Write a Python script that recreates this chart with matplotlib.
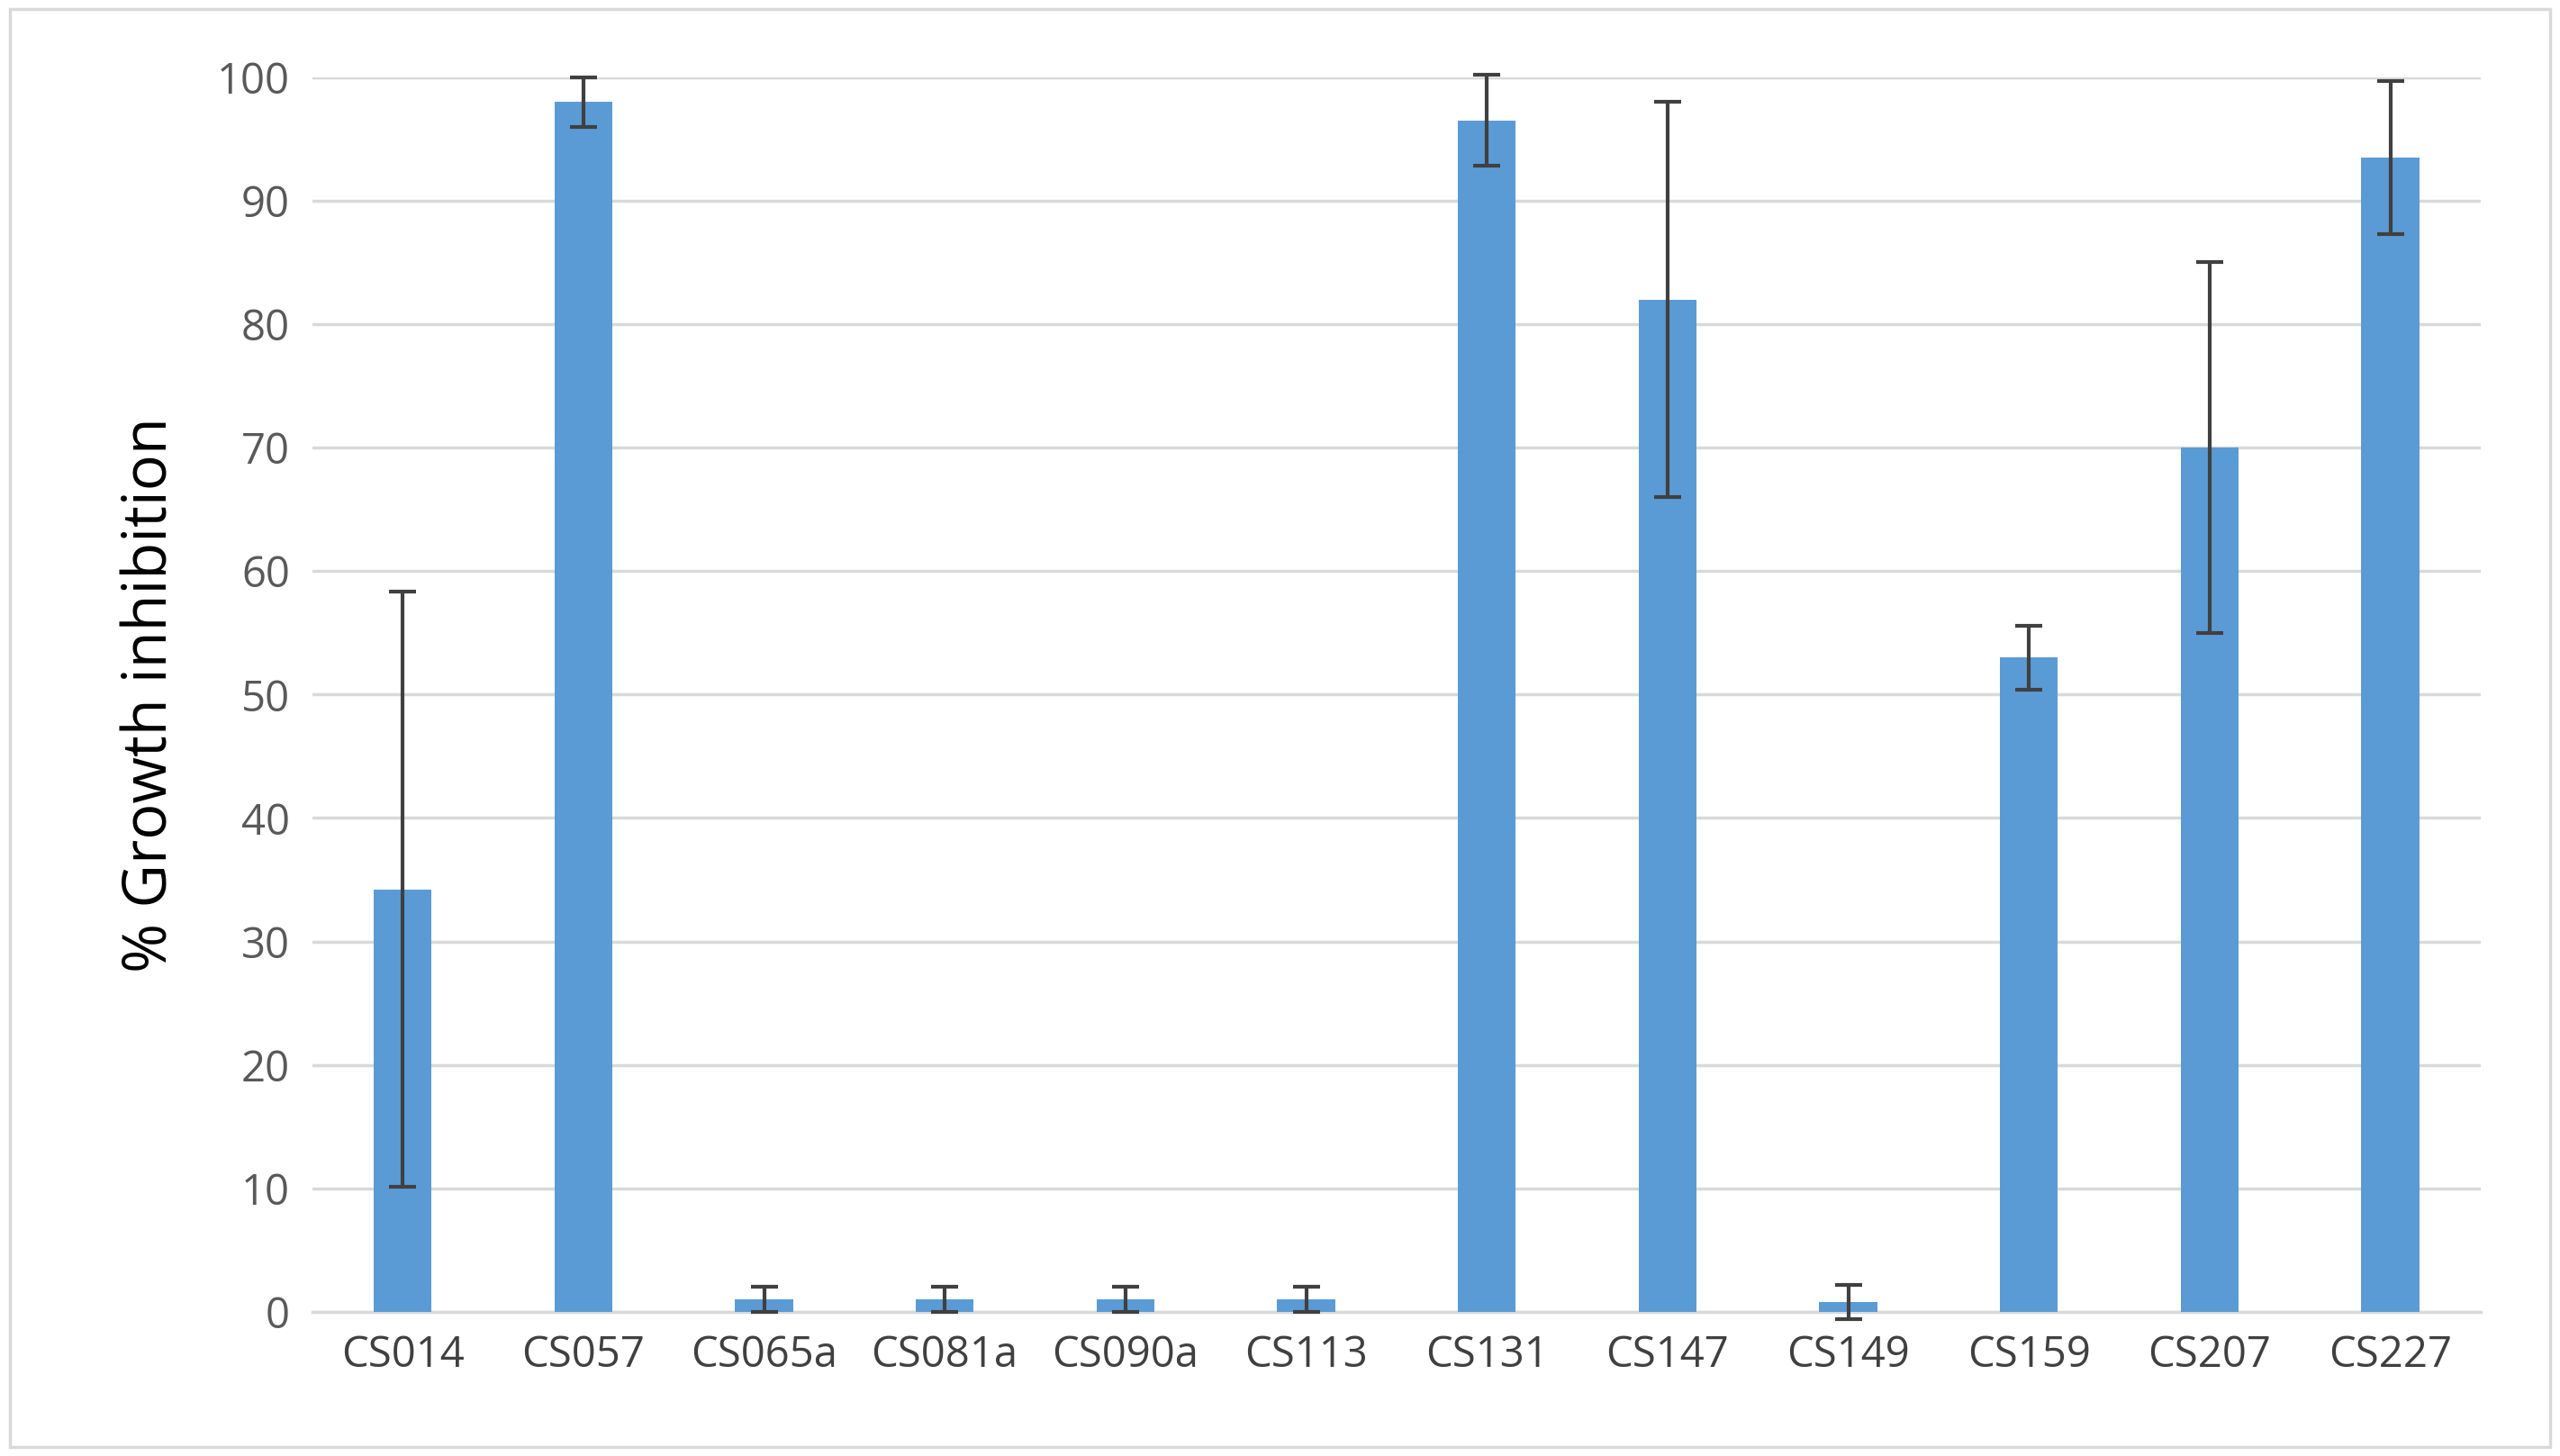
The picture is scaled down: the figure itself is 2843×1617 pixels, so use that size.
import matplotlib
matplotlib.use("Agg")
import matplotlib.pyplot as plt
from matplotlib.patches import Rectangle

categories = ["CS014","CS057","CS065a","CS081a","CS090a","CS113","CS131","CS147","CS149","CS159","CS207","CS227"]
values = [34.2, 98.0, 1.0, 1.0, 1.0, 1.0, 96.5, 82.0, 0.8, 53.0, 70.0, 93.5]
errors = [24.1, 2.0, 1.0, 1.0, 1.0, 1.0, 3.7, 16.0, 1.4, 2.6, 15.0, 6.2]
yticks = [0,10,20,30,40,50,60,70,80,90,100]

plt.rcParams['font.family'] = ['Open Sans', 'DejaVu Sans']
fig = plt.figure(figsize=(28.43,16.17), dpi=100)
ax = fig.add_axes([0.122, 0.099, 0.847, 0.848])
x = list(range(len(categories)))
ax.bar(x, values, width=0.32, color="#5B9BD5", zorder=3)
eb = ax.errorbar(x, values, yerr=errors, fmt='none', ecolor="#404040", elinewidth=3, capsize=11, capthick=3, zorder=4)
for art in eb.lines[1] + eb.lines[2]:
    art.set_clip_on(False)
ax.set_ylim(0,100)
ax.set_xlim(-0.5, len(categories)-0.5)
ax.set_yticks(yticks)
ax.set_xticks(x)
ax.set_xticklabels(categories)
ax.tick_params(axis='both', length=0, labelsize=34, colors="#404040", pad=18)
ax.tick_params(axis='y', colors="#595959")
ax.grid(axis='y', color="#D9D9D9", linewidth=2.5, zorder=0)
for s in ['top','right','left']:
    ax.spines[s].set_visible(False)
ax.spines['bottom'].set_color("#D9D9D9")
ax.spines['bottom'].set_linewidth(2.5)
ax.set_ylabel("% Growth inhibition", fontsize=48, color="#000000", labelpad=28)
fig.patches.append(Rectangle((0.004,0.006),0.992,0.988, transform=fig.transFigure, fill=False, edgecolor="#D9D9D9", linewidth=2.5))
fig.savefig("out.png", dpi=100)
